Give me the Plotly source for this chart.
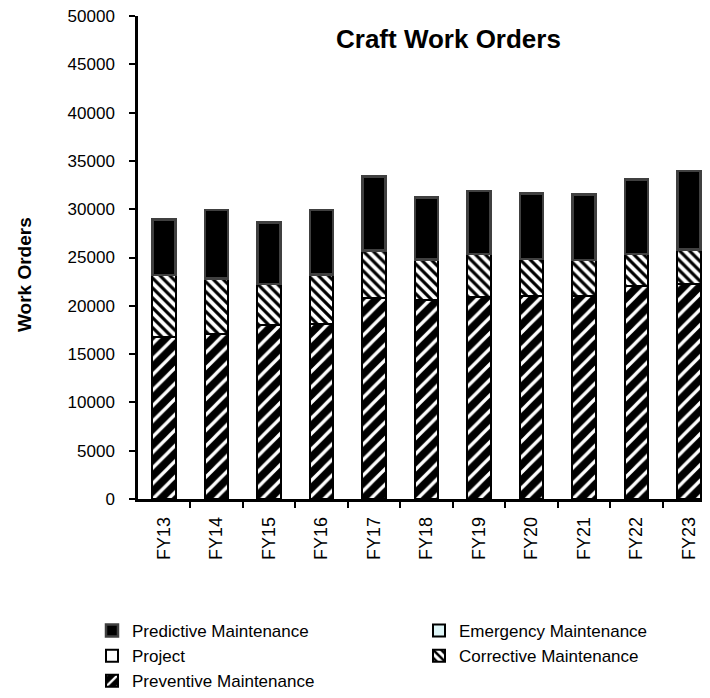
import plotly.graph_objects as go

years = ["FY13", "FY14", "FY15", "FY16", "FY17", "FY18", "FY19", "FY20", "FY21", "FY22", "FY23"]
preventive = [16800, 17100, 18000, 18150, 20800, 20600, 20950, 21050, 21050, 22050, 22250]
corrective = [6400, 5750, 4250, 5100, 4900, 4200, 4400, 3800, 3700, 3300, 3600]
project = [0, 0, 0, 0, 0, 0, 0, 0, 0, 0, 0]
emergency = [0, 0, 0, 0, 0, 0, 0, 0, 0, 0, 0]
predictive = [5750, 7050, 6350, 6650, 7700, 6400, 6550, 6750, 6750, 7750, 8100]

FONT = "Liberation Sans, Arial, sans-serif"
W = 0.44

fig = go.Figure()
fig.add_trace(go.Bar(
    x=years, y=preventive, name="Preventive Maintenance", width=W,
    marker=dict(color="black", line=dict(color="black", width=2),
                pattern=dict(shape="/", fgcolor="white", bgcolor="black",
                             size=11, solidity=0.3, fillmode="replace")),
))
fig.add_trace(go.Bar(
    x=years, y=corrective, name="Corrective Maintenance", width=W,
    marker=dict(color="white", line=dict(color="black", width=2),
                pattern=dict(shape="\\", fgcolor="black", bgcolor="white",
                             size=7, solidity=0.45, fillmode="replace")),
))
fig.add_trace(go.Bar(
    x=years, y=project, name="Project", width=W,
    marker=dict(color="white", line=dict(color="black", width=2)),
))
fig.add_trace(go.Bar(
    x=years, y=emergency, name="Emergency Maintenance", width=W,
    marker=dict(color="#dff6f8", line=dict(color="black", width=2)),
))
fig.add_trace(go.Bar(
    x=years, y=predictive, name="Predictive Maintenance", width=W,
    marker=dict(color="black", line=dict(color="#404040", width=2.5)),
))

# page body has an 8px margin; figure sized to fill the visible window
OFF = 8
FW, FH = 710 - OFF, 698 - OFF
L, R, T = 138 - OFF, 0, 16 - OFF
B = FH - (499 - OFF)
PW = FW - L - R
PH = FH - T - B


def px_x(wx):
    return (wx - OFF - L) / PW


def px_y(wy):
    return (T + PH - (wy - OFF)) / PH


fig.update_layout(
    width=FW, height=FH,
    barmode="stack",
    paper_bgcolor="white", plot_bgcolor="white",
    margin=dict(l=L, r=R, t=T, b=B, pad=0, autoexpand=False),
    font=dict(family=FONT, color="black", size=16),
    showlegend=True,
    legend=dict(
        orientation="h", traceorder="reversed",
        x=px_x(92), xanchor="left",
        y=px_y(613), yanchor="top",
        entrywidth=282, entrywidthmode="pixels",
        font=dict(family=FONT, size=17, color="black"),
        bgcolor="rgba(0,0,0,0)",
    ),
    xaxis=dict(
        range=[-0.495, 10.40], automargin=False,
        showline=True, linecolor="black", linewidth=2.5,
        ticks="outside", tickson="boundaries", ticklen=6, tickwidth=2, tickcolor="black",
        tickangle=-90, tickfont=dict(family=FONT, size=18, color="black"),
        ticklabelstandoff=8, ticklabeloverflow="allow",
        showgrid=False, zeroline=False,
    ),
    yaxis=dict(
        range=[0, 50000], dtick=5000, tick0=0, tickformat="d", automargin=False,
        showline=True, linecolor="black", linewidth=2.5,
        ticks="outside", ticklen=6, tickwidth=2, tickcolor="black",
        tickfont=dict(family=FONT, size=17, color="black"),
        ticklabelstandoff=11, ticklabeloverflow="allow",
        showgrid=False, zeroline=False,
    ),
    annotations=[
        dict(text="<b>Craft Work Orders</b>", xref="paper", yref="paper",
             x=px_x(448), y=px_y(39), xanchor="center", yanchor="middle",
             showarrow=False, font=dict(family=FONT, size=26, color="black")),
        dict(text="<b>Work Orders</b>", xref="paper", yref="paper",
             x=px_x(25), y=px_y(275), xanchor="center", yanchor="middle",
             textangle=-90, showarrow=False, font=dict(family=FONT, size=19, color="black")),
    ],
)

fig.write_html("out.html")
